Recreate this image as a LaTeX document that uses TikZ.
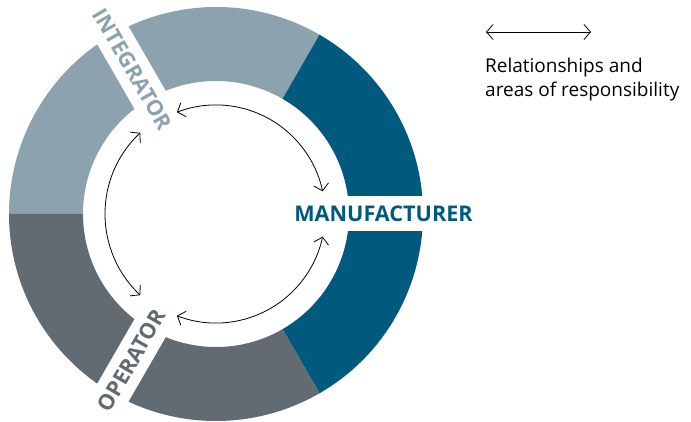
\documentclass[tikz,border=0pt]{standalone}
\usepackage{fontspec}
\setmainfont{Open Sans}
\usetikzlibrary{arrows.meta}
\definecolor{integ}{HTML}{8CA3AF}
\definecolor{manu}{HTML}{005A7D}
\definecolor{oper}{HTML}{626B71}
\tikzset{
  rel/.style={line width=0.8pt, black, {Straight Barb[length=6.5pt,width=15pt]}-{Straight Barb[length=6.5pt,width=15pt]}},
  rolelabel/.style={inner sep=0pt, font=\fontsize{21.6}{26}\selectfont\bfseries},
  legendtext/.style={inner sep=0pt, anchor=base west, font=\fontsize{19}{24}\selectfont},
  band/.style={fill=white}
}
\begin{document}
\begin{tikzpicture}[x=1pt,y=1pt]
\useasboundingbox (0,0) rectangle (691,421);
\coordinate (c) at (216,207);
\def\Ro{207}
\def\Ri{133}
% ring segments
\fill[integ, shift={(c)}] (60:\Ro) arc[start angle=60,end angle=180,radius=\Ro] -- (180:\Ri) arc[start angle=180,end angle=60,radius=\Ri] -- cycle;
\fill[manu, shift={(c)}] (-60:\Ro) arc[start angle=-60,end angle=60,radius=\Ro] -- (60:\Ri) arc[start angle=60,end angle=-60,radius=\Ri] -- cycle;
\fill[oper, shift={(c)}] (180:\Ro) arc[start angle=180,end angle=300,radius=\Ro] -- (300:\Ri) arc[start angle=300,end angle=180,radius=\Ri] -- cycle;
% white bands for labels
\fill[band, shift={(c)}] (120,-17.5) rectangle (220,17.5);
\fill[band, shift={(c)}, rotate=120] (120,-18) rectangle (225,18);
\fill[band, shift={(c)}, rotate=240] (120,-18) rectangle (225,18);
% labels
\node[rolelabel, text=manu, anchor=base] (manufacturer) at (383.5,200) {MANUFACTURER};
\node[rolelabel, text=integ, rotate=-60] (integrator) at ([shift={(120:167)}]c) {INTEGRATOR};
\node[rolelabel, text=oper, rotate=60] (operator) at ([shift={(240:169)}]c) {OPERATOR};
% relationship arcs
\draw[rel, shift={(c)}] (111:109) arc[start angle=111,end angle=12,radius=109];
\draw[rel, shift={(c)}] (133:111) arc[start angle=133,end angle=227,radius=111];
\draw[rel, shift={(c)}] (249:109) arc[start angle=249,end angle=348,radius=109];
% legend
\coordinate (legl) at (486,389);
\coordinate (legr) at (591,389);
\draw[rel] (legl) -- (legr);
\node[legendtext] (leg1) at (485,348) {Relationships and};
\node[legendtext] (leg2) at (485,324) {areas of responsibility};
\end{tikzpicture}
\end{document}
